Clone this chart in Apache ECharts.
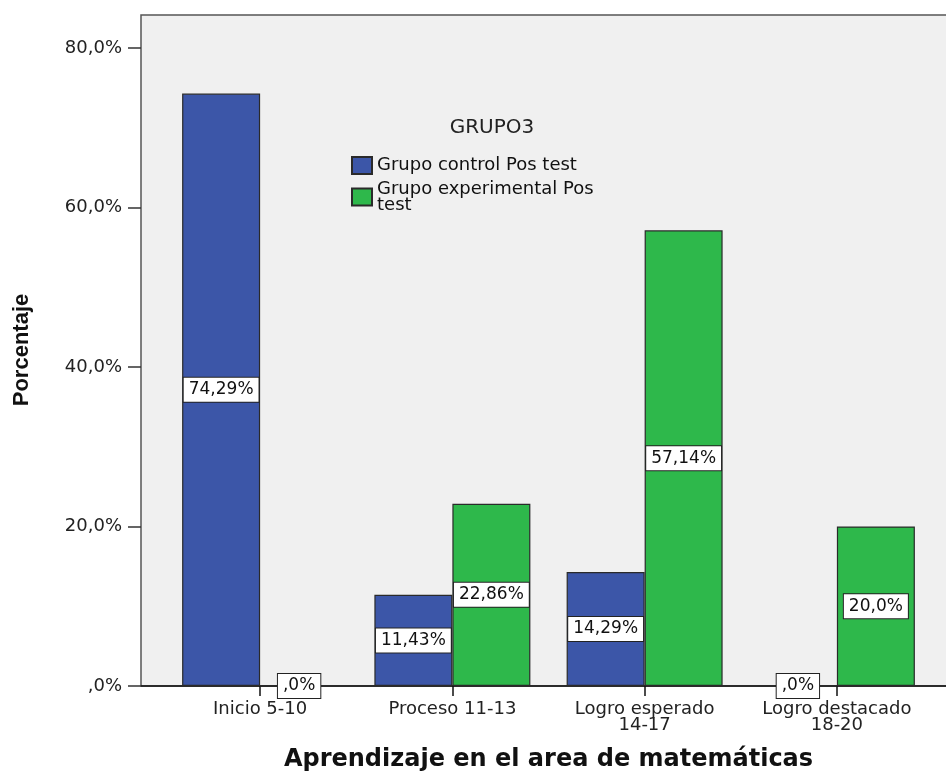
<!DOCTYPE html>
<html><head><meta charset="utf-8">
<script src="https://cdn.jsdelivr.net/npm/echarts@6/dist/echarts.min.js"></script>
<style>html,body{margin:0;padding:0;background:#fff}#c{width:946px;height:773px}</style>
</head><body><div id="c"></div>
<script>
var categories = ['Inicio 5-10', 'Proceso 11-13', 'Logro esperado\n14-17', 'Logro destacado\n18-20'];
var controlValues = [74.29, 11.43, 14.29, 0];
var experimentalValues = [0, 22.86, 57.14, 20.0];
var seriesNames = ['Grupo control Pos test', 'Grupo experimental Pos test'];
var yTicks = [0, 20, 40, 60, 80];
var legendTitle = 'GRUPO3';
var xTitle = 'Aprendizaje en el area de matemáticas';
var yTitle = 'Porcentaje';

var FONT = 'DejaVu Sans';
function pct(v){
  if (v === 0) return ',0%';
  var s = (Math.round(v*100)%100===0) ? v.toFixed(1) : v.toFixed(2);
  return s.replace('.', ',') + '%';
}
function axisPct(v){
  if (v === 0) return ',0%';
  return v.toFixed(1).replace('.', ',') + '%';
}
var labelStyle = {
  show: true, position: 'inside', opacity: 1, formatter: function(p){ return pct(p.value); },
  backgroundColor: '#ffffff', borderColor: '#222', borderWidth: 1,
  padding: [4, 5, 3, 5], color: '#111', fontSize: 17, fontFamily: FONT
};
var chart = echarts.init(document.getElementById('c'), null, {renderer: 'canvas'});
chart.setOption({
  backgroundColor: '#ffffff',
  animation: false,
  graphic: [
    {type: 'rect', z: -10, shape: {x: 141, y: 15, width: 812, height: 671},
     style: {fill: '#f0f0f0', stroke: '#555', lineWidth: 1.5}},
    {type: 'line', z: 1, shape: {x1: 141, y1: 686, x2: 946, y2: 686},
     style: {stroke: '#111', lineWidth: 1.5}},
    {type: 'text', z: 10, x: 492, y: 128,
     style: {text: legendTitle, fill: '#222', font: '20px "DejaVu Sans"', textAlign: 'center', textVerticalAlign: 'middle'}},
    {type: 'text', z: 10, x: 22, y: 350, rotation: Math.PI / 2,
     style: {text: yTitle, fill: '#111', font: 'bold 22px "Liberation Sans"', textAlign: 'center', textVerticalAlign: 'middle'}}
  ],
  grid: {left: 164, right: 13, top: 48, bottom: 87, containLabel: false, outerBoundsMode: 'none'},
  legend: {
    orient: 'vertical', left: 346, top: 151, itemWidth: 20, itemHeight: 17, itemGap: 5,
    icon: 'rect',
    textStyle: {fontSize: 18, fontFamily: FONT, color: '#111', lineHeight: 16},
    formatter: function(n){ return n === seriesNames[1] ? 'Grupo experimental Pos\ntest' : n; },
    data: seriesNames
  },
  xAxis: {
    type: 'category', data: categories,
    axisLine: {show: false},
    axisTick: {show: true, alignWithLabel: true, length: 10, lineStyle: {color: '#111', width: 1.5}},
    axisLabel: {interval: 0, margin: 15, fontSize: 18, fontFamily: FONT, color: '#222', lineHeight: 16},
    name: xTitle, nameLocation: 'middle', nameGap: 62,
    nameTextStyle: {fontSize: 24, fontWeight: 'bold', fontFamily: FONT, color: '#111'}
  },
  yAxis: {
    type: 'value', min: 0, max: 80, interval: 20, offset: 23,
    splitLine: {show: false},
    axisLine: {show: false},
    axisTick: {show: true, length: 13, lineStyle: {color: '#333', width: 1.5}},
    axisLabel: {margin: 19, fontSize: 18, fontFamily: FONT, color: '#222', formatter: axisPct}
  },
  series: [
    {name: seriesNames[0], type: 'bar', data: controlValues, barWidth: 78, barGap: '0%',
     itemStyle: {color: '#3c56a8', borderColor: '#2a2a2a', borderWidth: 1.2}, label: labelStyle,
     labelLayout: {hideOverlap: false}},
    {name: seriesNames[1], type: 'bar', data: experimentalValues, barWidth: 78,
     itemStyle: {color: '#2eb84b', borderColor: '#2a2a2a', borderWidth: 1.2}, label: labelStyle,
     labelLayout: {hideOverlap: false}}
  ]
});
</script></body></html>
